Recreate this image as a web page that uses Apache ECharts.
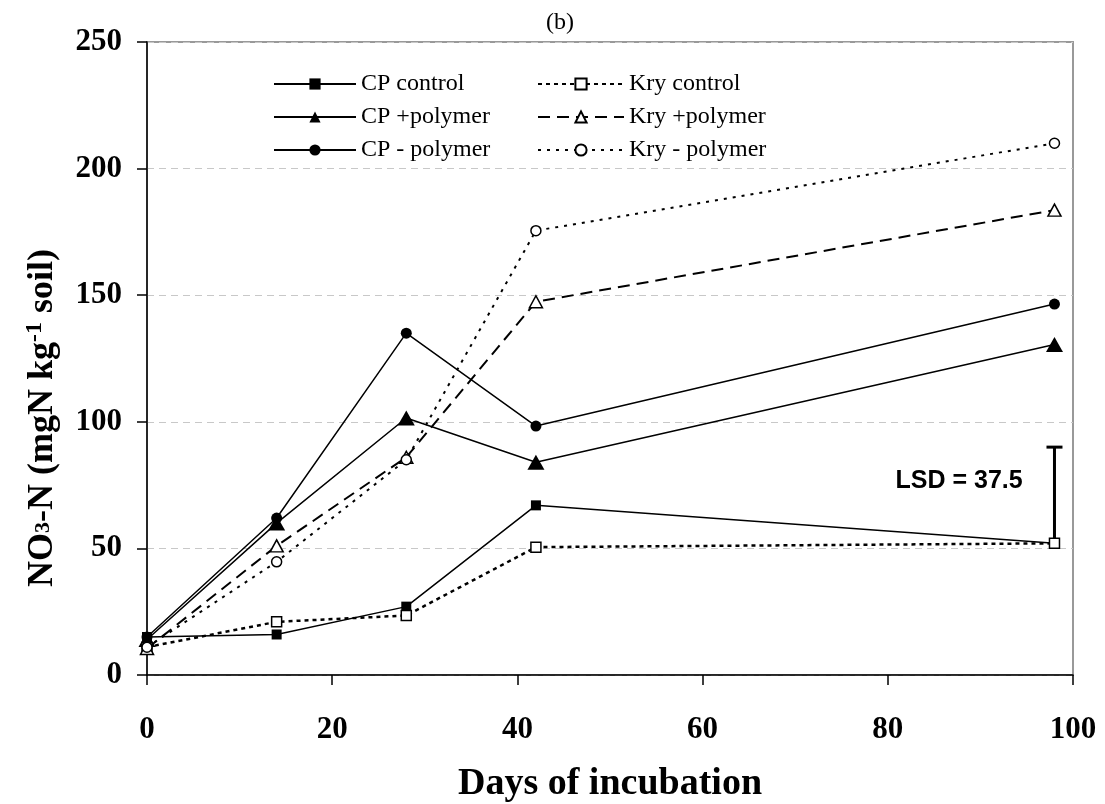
<!DOCTYPE html>
<html>
<head>
<meta charset="utf-8">
<script src="https://cdn.jsdelivr.net/npm/echarts@6/dist/echarts.min.js"></script>
<style>
html,body{margin:0;padding:0;background:#fff;}
#chart{width:1105px;height:804px;}
</style>
</head>
<body>
<div id="chart"></div>
<script>
// ---- data ----
var days = [0, 14, 28, 42, 98];
var cpControl  = [15, 16, 27, 67, 52];
var cpPolymer  = [14, 60, 101.5, 84, 130.5];
var cpMinus    = [15, 62, 135, 98.3, 146.5];
var kryControl = [11, 21, 23.5, 50.5, 52];
var kryPolymer = [10.5, 51, 86, 147.4, 183.6];
var kryMinus   = [11, 44.7, 85, 175.5, 210];
var seriesNames = ['CP control', 'CP +polymer', 'CP - polymer', 'Kry control', 'Kry +polymer', 'Kry - polymer'];
var xTicks = [0, 20, 40, 60, 80, 100];
var yTicks = [0, 50, 100, 150, 200, 250];
var lsdDay = 98;
var lsdBase = 52.5;
var lsdValue = 37.5;
var lsdLabel = 'LSD = 37.5';
var lsdLabelPos = [87.7, 76.6];

function pts(ys) { return days.map(function (d, i) { return [d, ys[i]]; }); }

var serif = "'Liberation Serif','Times New Roman',serif";
var sans = "'Liberation Sans',Arial,sans-serif";

function mkSeries(name, ys, lineType, lineWidth, symbol, size, filled) {
  return {
    name: name,
    type: 'line',
    data: pts(ys),
    symbol: symbol,
    symbolSize: size,
    showAllSymbol: true,
    lineStyle: { color: '#000', width: lineWidth, type: lineType },
    itemStyle: filled ? { color: '#000', borderColor: '#000', borderWidth: 0 }
                      : { color: '#fff', borderColor: '#000', borderWidth: 1.5 },
    emphasis: { disabled: true },
    z: filled ? 3 : 4
  };
}

var chart = echarts.init(document.getElementById('chart'), null, { renderer: 'canvas' });
var option = {
  animation: false,
  backgroundColor: '#fff',
  grid: { left: 147, right: 32, top: 42, bottom: 129, show: true, borderColor: '#999', borderWidth: 2, backgroundColor: 'transparent' },
  xAxis: {
    type: 'value', min: xTicks[0], max: xTicks[xTicks.length - 1], interval: 20,
    axisLine: { show: true, onZero: false, lineStyle: { color: '#000', width: 1.5 } },
    axisTick: { show: true, length: 10, inside: false, lineStyle: { color: '#000', width: 1.5 } },
    axisLabel: { color: '#000', fontFamily: serif, fontWeight: 'bold', fontSize: 31, margin: 39 },
    splitLine: { show: false }
  },
  yAxis: {
    type: 'value', min: yTicks[0], max: yTicks[yTicks.length - 1], interval: 50,
    axisLine: { show: true, onZero: false, lineStyle: { color: '#000', width: 1.5 } },
    axisTick: { show: true, length: 10, inside: false, lineStyle: { color: '#000', width: 1.5 } },
    axisLabel: { color: '#000', fontFamily: serif, fontWeight: 'bold', fontSize: 31, margin: 25 },
    splitLine: { show: true, lineStyle: { color: '#c8c8c8', width: 1, type: [7, 5] } }
  },
  legend: [
    {
      data: seriesNames.slice(0, 3), orient: 'vertical', left: 273, top: 72, padding: 0,
      itemWidth: 82, itemHeight: 14, itemGap: 9, selectedMode: false,
      textStyle: { color: '#000', fontFamily: serif, fontSize: 24 }
    },
    {
      data: seriesNames.slice(3, 6), orient: 'vertical', left: 537, top: 72, padding: 0,
      itemWidth: 86, itemHeight: 14, itemGap: 9, selectedMode: false,
      textStyle: { color: '#000', fontFamily: serif, fontSize: 24 }
    }
  ],
  graphic: [
    { type: 'text', x: 560, y: 23, style: { text: '(b)', font: "24px 'Liberation Serif','Times New Roman',serif", fill: '#000', align: 'center', verticalAlign: 'middle' } },
    { type: 'text', x: 610, y: 784, style: { text: 'Days of incubation', font: "bold 38px 'Liberation Serif','Times New Roman',serif", fill: '#000', align: 'center', verticalAlign: 'middle' } },
    {
      type: 'text', x: 43, y: 418, rotation: Math.PI / 2,
      style: {
        text: '{a|NO}{s|3}{a|-N (mgN kg}{p|-1}{a| soil)}',
        align: 'center', verticalAlign: 'middle', fill: '#000',
        rich: {
          a: { fontFamily: serif, fontWeight: 'bold', fontSize: 36, lineHeight: 40, verticalAlign: 'middle', fill: '#000', color: '#000' },
          s: { fontFamily: serif, fontWeight: 'bold', fontSize: 22, lineHeight: 40, verticalAlign: 'middle', fill: '#000', color: '#000' },
          p: { fontFamily: serif, fontWeight: 'bold', fontSize: 24, lineHeight: 24, verticalAlign: 'top', fill: '#000', color: '#000' }
        }
      }
    }
  ],
  series: [
    mkSeries(seriesNames[0], cpControl, 'solid', 1.5, 'rect', 10, true),
    mkSeries(seriesNames[1], cpPolymer, 'solid', 1.5, 'triangle', [17, 15], true),
    mkSeries(seriesNames[2], cpMinus, 'solid', 1.5, 'circle', 11, true),
    mkSeries(seriesNames[3], kryControl, [4, 4], 2.5, 'rect', 10, false),
    mkSeries(seriesNames[4], kryPolymer, [12, 7], 2, 'triangle', [13, 12], false),
    mkSeries(seriesNames[5], kryMinus, [3, 6], 2, 'circle', 10, false),
    {
      name: 'LSD', type: 'line',
      data: [
        { value: [lsdDay, lsdBase], symbol: 'none' },
        { value: [lsdDay, lsdBase + lsdValue], symbol: 'rect', symbolSize: [16, 3] }
      ],
      lineStyle: { color: '#000', width: 3 },
      itemStyle: { color: '#000' },
      emphasis: { disabled: true },
      z: 2,
      markPoint: {
        symbol: 'circle', symbolSize: 0,
        data: [{ coord: lsdLabelPos }],
        label: { show: true, position: 'inside', formatter: lsdLabel, color: '#000', fontFamily: sans, fontWeight: 'bold', fontSize: 25 }
      }
    }
  ]
};
chart.setOption(option);
</script>
</body>
</html>
